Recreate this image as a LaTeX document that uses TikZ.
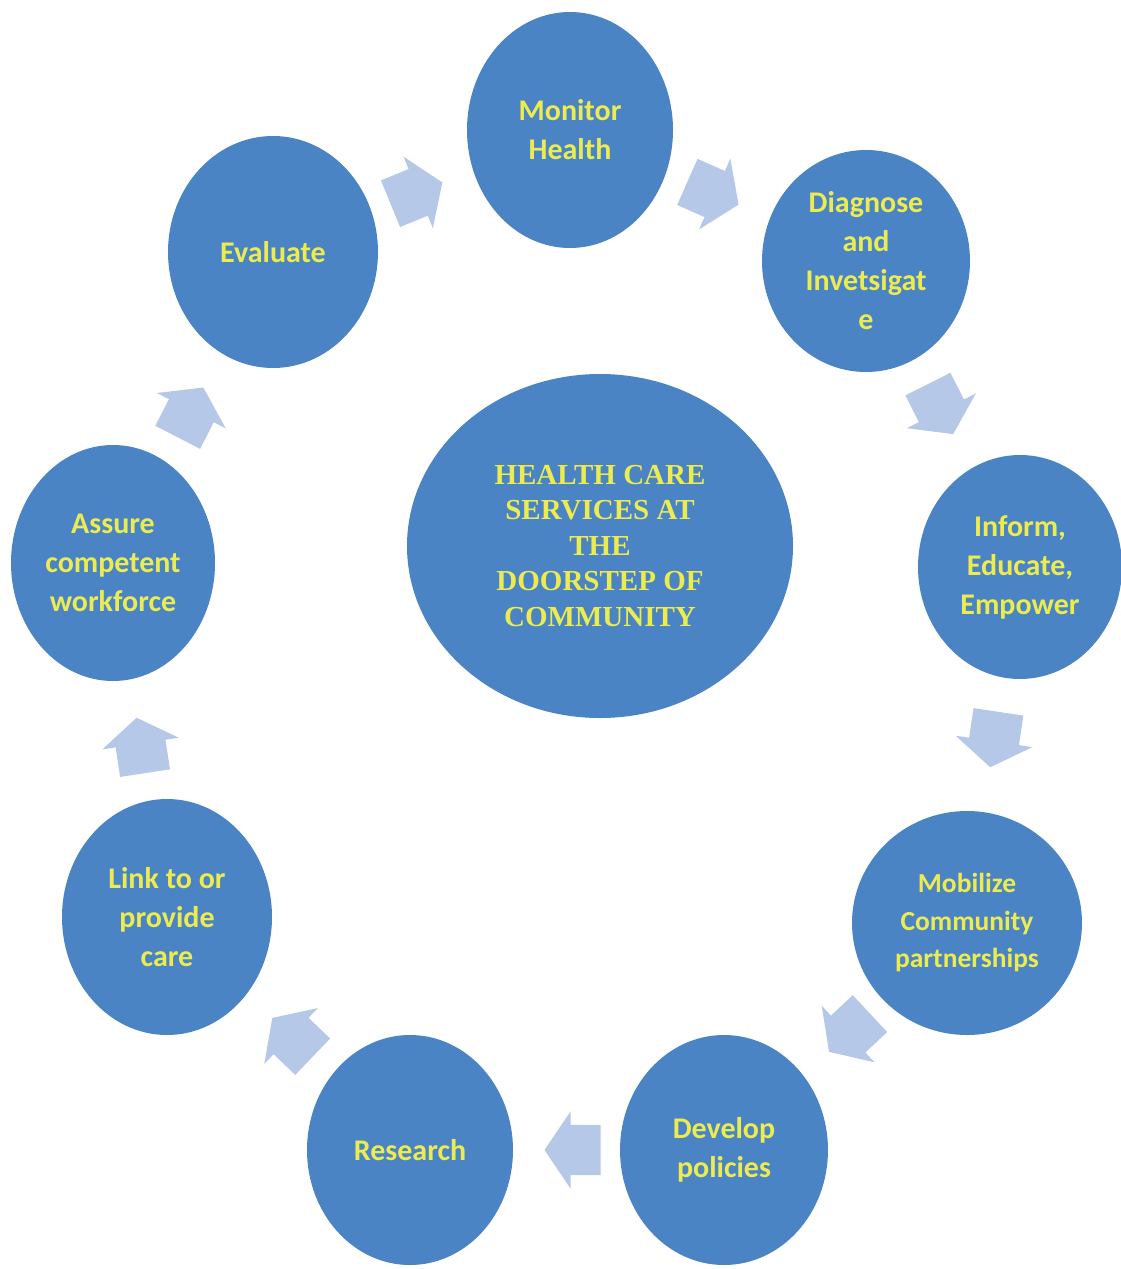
\documentclass[tikz,border=0pt]{standalone}
\usepackage{fontspec}
\setmainfont{Carlito}
\newfontfamily\centerserif{Liberation Serif}
\usetikzlibrary{shapes.geometric,shapes.arrows,calc}
\definecolor{disk}{RGB}{74,132,196}
\definecolor{labelyellow}{RGB}{236,236,80}
\definecolor{flowblue}{RGB}{182,200,231}
\begin{document}
\begin{tikzpicture}[x=1pt,y=-1pt,
  stage/.style={ellipse, fill=disk, text=labelyellow, inner sep=0pt, align=center,
    font=\bfseries\fontsize{30}{39}\selectfont},
  flowarrow/.style={single arrow, fill=flowblue, draw=none, minimum height=56pt,
    inner xsep=0pt, inner ysep=25pt, single arrow head extend=13.5pt, single arrow tip angle=112}]
\useasboundingbox (0,0) rectangle (1121,1269);
\fill[white] (0,0) rectangle (1121,1269);
% stages
\node[stage, minimum width=206pt, minimum height=236pt] (monitor) at (570,130) {Monitor\\Health};
\node[stage, minimum width=208pt, minimum height=222pt] (diagnose) at (866,261) {Diagnose\\and\\Invetsigat\\e};
\node[stage, minimum width=204pt, minimum height=224pt] (inform) at (1020,567) {Inform,\\Educate,\\Empower};
\node[stage, minimum width=230pt, minimum height=224pt, font=\bfseries\fontsize{27.5}{37.5}\selectfont] (mobilize) at (967,923) {Mobilize\\Community\\partnerships};
\node[stage, minimum width=208pt, minimum height=230pt] (develop) at (724,1150) {Develop\\policies};
\node[stage, minimum width=206pt, minimum height=230pt] (research) at (410,1150) {Research};
\node[stage, minimum width=210pt, minimum height=236pt] (link) at (167,917) {Link to or\\provide\\care};
\node[stage, minimum width=204pt, minimum height=236pt] (assure) at (113,563) {Assure\\competent\\workforce};
\node[stage, minimum width=210pt, minimum height=232pt] (evaluate) at (273,252) {Evaluate};
% centre
\node[stage, minimum width=386pt, minimum height=344pt,
  font=\centerserif\bfseries\fontsize{29}{35.5}\selectfont] (core) at (600,546)
  {HEALTH CARE\\SERVICES AT\\THE\\DOORSTEP OF\\COMMUNITY};
% flow arrows
\foreach \a/\b in {evaluate/monitor, monitor/diagnose, diagnose/inform, inform/mobilize,
                   mobilize/develop, develop/research, research/link, link/assure, assure/evaluate}{
  \coordinate (mid-\a) at ($(\a)!0.5!(\b)$);
  \path let \p1=($(\b)-(\a)$), \n1={atan2(\y1,\x1)} in
    node[flowarrow, rotate=\n1] (arr-\a) at ($(mid-\a)!14pt!(\a)$) {};
}
\end{tikzpicture}
\end{document}
